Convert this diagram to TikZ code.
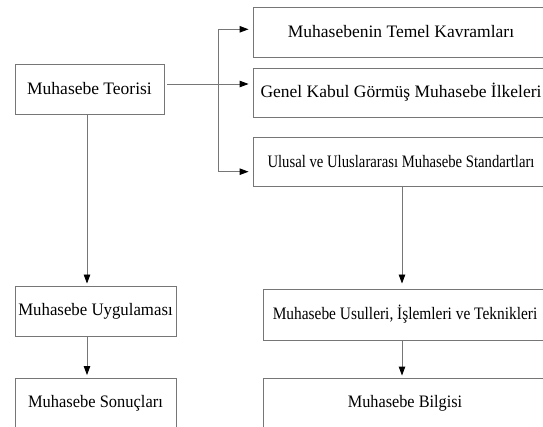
\documentclass[tikz,border=0pt]{standalone}
\usepackage{fontspec}
\setmainfont{Liberation Serif}
\usepackage{graphicx}
\usetikzlibrary{arrows.meta}
\definecolor{ln}{RGB}{118,118,118}
\begin{document}
\begin{tikzpicture}[x=1pt,y=-1pt,
  box/.style={draw=ln,line width=0.9pt,inner sep=0pt,align=center,
    font=\fontsize{17.5}{20}\selectfont},
  conn/.style={draw=ln,line width=0.9pt},
  arr/.style={conn,-{Triangle[length=9pt,width=6.5pt,black]}}]
\clip (0,0) rectangle (543,427);
\fill[white] (0,0) rectangle (543,427);
% nodes
\node[box,minimum width=149pt,minimum height=50pt] (teo) at (89.5,89) {Muhasebe Teorisi};
\node[box,minimum width=296pt,minimum height=50pt] (b1) at (401,32) {Muhasebenin Temel Kavramları};
\node[box,minimum width=296pt,minimum height=49pt] (b2) at (401,92.5) {Genel Kabul Görmüş Muhasebe İlkeleri};
\node[box,minimum width=296pt,minimum height=49pt] (b3) at (401,161.5) {\scalebox{0.84}[1]{Ulusal ve Uluslararası Muhasebe Standartları}};
\node[box,minimum width=161pt,minimum height=50pt] (uyg) at (95.5,311) {\scalebox{0.96}[1]{Muhasebe Uygulaması}};
\node[box,minimum width=161pt,minimum height=50pt] (son) at (95.5,403) {\scalebox{0.94}[1]{Muhasebe Sonuçları}};
\node[box,minimum width=284pt,minimum height=51pt] (usu) at (405,314.5) {\scalebox{0.88}[1]{Muhasebe Usulleri, İşlemleri ve Teknikleri}};
\node[box,minimum width=284pt,minimum height=50pt] (bil) at (405,403) {\scalebox{0.93}[1]{Muhasebe Bilgisi}};
% helper coordinates
\coordinate (hy) at (0,84);
\coordinate (ya) at (0,29.3);
\coordinate (yc) at (0,171.7);
\coordinate (bx) at (218,0);
\coordinate (lx) at (87,0);
\coordinate (rx) at (402,0);
% connectors
\draw[arr,shorten <=3pt,shorten >=4pt] (teo.east |- hy) -- (b2.west |- hy);
\draw[conn] (bx |- ya) -- (bx |- yc);
\draw[arr,shorten >=4pt] (bx |- ya) -- (b1.west |- ya);
\draw[arr,shorten >=4pt] (bx |- yc) -- (b3.west |- yc);
\draw[arr,shorten >=2pt] (teo.south -| lx) -- (uyg.north -| lx);
\draw[arr,shorten >=2.5pt] (uyg.south -| lx) -- (son.north -| lx);
\draw[arr,shorten >=5pt] (b3.south -| rx) -- (usu.north -| rx);
\draw[arr,shorten >=2pt] (usu.south -| rx) -- (bil.north -| rx);
\end{tikzpicture}
\end{document}
